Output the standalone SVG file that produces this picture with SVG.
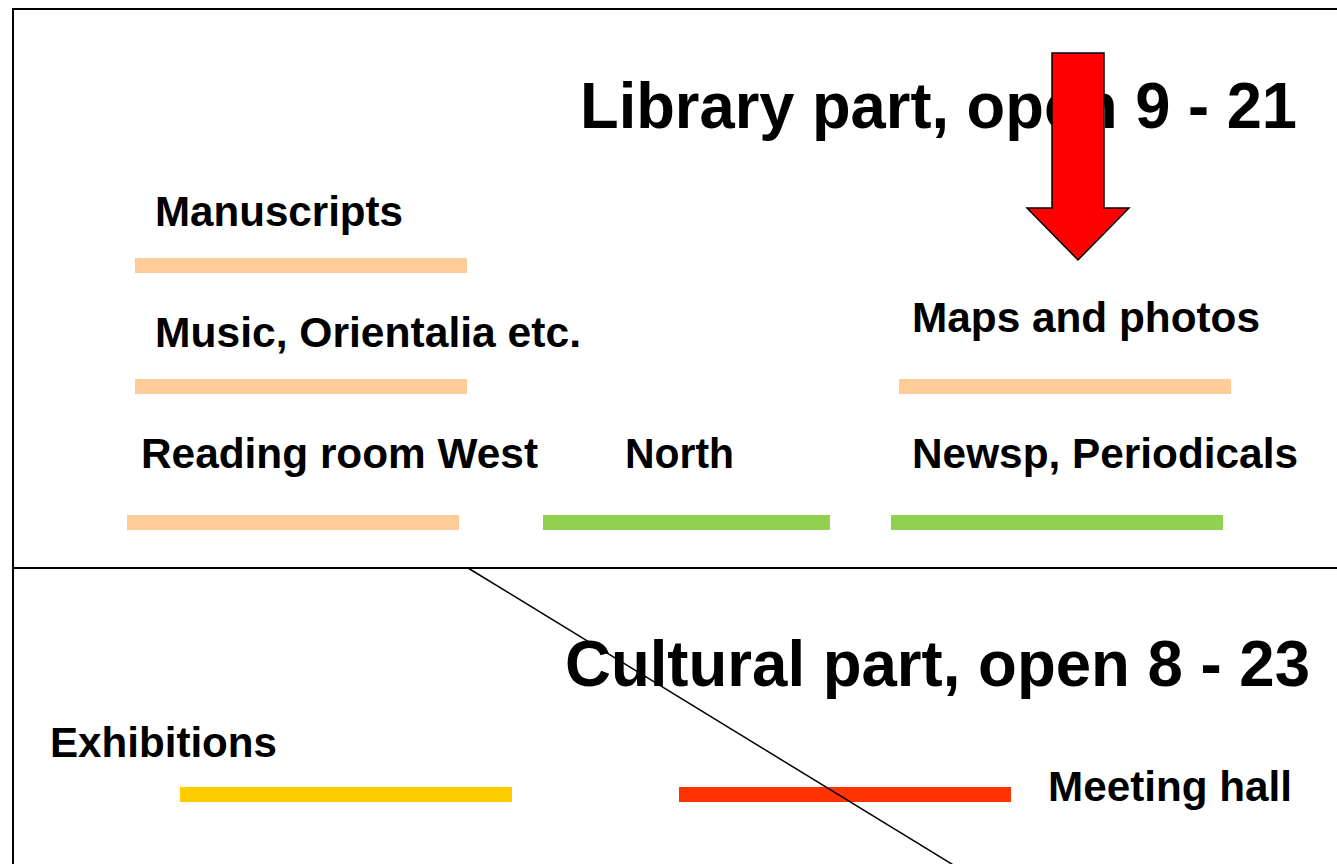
<svg xmlns="http://www.w3.org/2000/svg" width="1337" height="864" viewBox="0 0 1337 864">
<style>
text{font-family:"Liberation Sans",Arial,sans-serif;font-weight:bold;fill:#000}
.t{font-size:64px}
.l{font-size:42px}
.frame{fill:none;stroke:#000;stroke-width:2}
.bar{stroke:none}
.peach{fill:#FFCC99}
.green{fill:#92D050}
</style>
<rect width="1337" height="864" fill="#fff"/>
<g id="frame">
<line class="frame" x1="13" y1="9" x2="1337" y2="9"/>
<line class="frame" x1="13" y1="8" x2="13" y2="864"/>
<line class="frame" x1="13" y1="568" x2="1337" y2="568"/>
</g>
<g id="library-title"><text class="t" x="580" y="128" textLength="717" lengthAdjust="spacingAndGlyphs">Library part, open 9 - 21</text></g>
<g id="arrow"><polygon points="1052,53 1104,53 1104,208 1129,208 1078,260 1027,208 1052,208" fill="#FF0000" stroke="#000" stroke-width="1.5"/></g>
<g id="manuscripts">
<text class="l" x="155" y="226" textLength="248" lengthAdjust="spacingAndGlyphs">Manuscripts</text>
<rect class="bar peach" x="135" y="258" width="332" height="15"/>
</g>
<g id="music">
<text class="l" x="155" y="347" textLength="426" lengthAdjust="spacingAndGlyphs">Music, Orientalia etc.</text>
<rect class="bar peach" x="135" y="379" width="332" height="15"/>
</g>
<g id="maps">
<text class="l" x="912" y="332" textLength="348" lengthAdjust="spacingAndGlyphs">Maps and photos</text>
<rect class="bar peach" x="899" y="379" width="332" height="15"/>
</g>
<g id="reading-west">
<text class="l" x="141" y="468" textLength="397" lengthAdjust="spacingAndGlyphs">Reading room West</text>
<rect class="bar peach" x="127" y="515" width="332" height="15"/>
</g>
<g id="north">
<text class="l" x="625" y="468" textLength="109" lengthAdjust="spacingAndGlyphs">North</text>
<rect class="bar green" x="543" y="515" width="287" height="15"/>
</g>
<g id="newsp">
<text class="l" x="912" y="468" textLength="386" lengthAdjust="spacingAndGlyphs">Newsp, Periodicals</text>
<rect class="bar green" x="891" y="515" width="332" height="15"/>
</g>
<g id="cultural-title"><text class="t" x="565" y="686" textLength="745" lengthAdjust="spacingAndGlyphs">Cultural part, open 8 - 23</text></g>
<g id="exhibitions">
<text class="l" x="50" y="757" textLength="227" lengthAdjust="spacingAndGlyphs">Exhibitions</text>
<rect class="bar" x="180" y="787" width="332" height="15" fill="#FFCC00"/>
</g>
<g id="meeting-hall">
<rect class="bar" x="679" y="787" width="332" height="15" fill="#FF3300"/>
<text class="l" x="1048" y="801" textLength="244" lengthAdjust="spacingAndGlyphs">Meeting hall</text>
</g>
<g id="connectors">
<line x1="468" y1="568" x2="955" y2="866" stroke="#000" stroke-width="1.5"/>
</g>
</svg>
